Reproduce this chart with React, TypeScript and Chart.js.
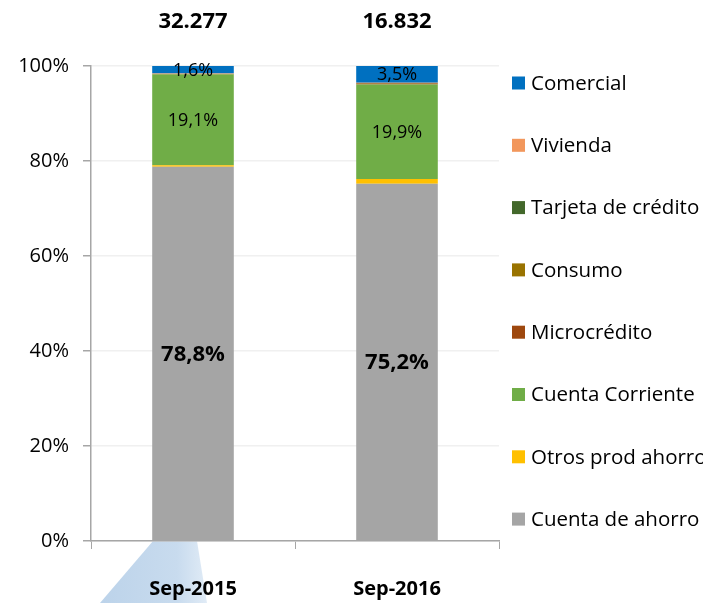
import React, { useEffect, useRef } from "react";
import { Chart, registerables } from "chart.js";

Chart.register(...registerables);

const categories = ["Sep-2015", "Sep-2016"];
const totals = ["32.277", "16.832"];

const seriesNames = [
  "Cuenta de ahorro",
  "Otros prod ahorro",
  "Cuenta Corriente",
  "Microcrédito",
  "Consumo",
  "Tarjeta de crédito",
  "Vivienda",
  "Comercial",
];
const seriesColors = [
  "#A5A5A5",
  "#FFC000",
  "#70AD47",
  "#9E480E",
  "#997300",
  "#43682B",
  "#F2975C",
  "#0070C0",
];
const cuentaAhorro = [78.8, 75.2];
const otrosProdAhorro = [0.3, 1.0];
const cuentaCorriente = [19.1, 19.9];
const microcredito = [0.0, 0.2];
const consumo = [0.1, 0.1];
const tarjetaCredito = [0.0, 0.0];
const vivienda = [0.1, 0.1];
const comercial = [1.6, 3.5];
const seriesValues = [
  cuentaAhorro,
  otrosProdAhorro,
  cuentaCorriente,
  microcredito,
  consumo,
  tarjetaCredito,
  vivienda,
  comercial,
];
const labeledSeries = [0, 2, 7];
const yTicks = [0, 20, 40, 60, 80, 100];

const FONT = "'Open Sans', 'Noto Sans', sans-serif";

const fmt = (v: number) => v.toFixed(1).replace(".", ",") + "%";

const watermarkPlugin = {
  id: "watermark",
  beforeDraw(chart: any) {
    const { ctx } = chart;
    ctx.save();
    const g = ctx.createLinearGradient(100, 0, 210, 0);
    g.addColorStop(0, "#bcd3ea");
    g.addColorStop(0.7, "#c8dbee");
    g.addColorStop(1, "#e3edf7");
    ctx.fillStyle = g;
    ctx.beginPath();
    ctx.moveTo(153, 541);
    ctx.lineTo(197, 541);
    ctx.lineTo(207, 603);
    ctx.lineTo(100, 603);
    ctx.closePath();
    ctx.fill();
    ctx.restore();
  },
};

const labelsPlugin = {
  id: "segLabels",
  afterDatasetsDraw(chart: any) {
    const { ctx } = chart;
    ctx.save();
    ctx.textAlign = "center";
    ctx.textBaseline = "middle";
    ctx.fillStyle = "#000";
    labeledSeries.forEach((di) => {
      const meta = chart.getDatasetMeta(di);
      meta.data.forEach((el: any, i: number) => {
        const v = seriesValues[di][i];
        const bold = di === 0;
        ctx.font = (bold ? "bold 22px " : "18px ") + FONT;
        const y = (el.y + el.base) / 2;
        ctx.fillText(fmt(v), el.x, y + 1);
      });
    });
    const meta0 = chart.getDatasetMeta(0);
    ctx.font = "bold 22px " + FONT;
    meta0.data.forEach((el: any, i: number) => {
      ctx.fillText(totals[i], el.x, 22);
    });
    const items = seriesNames.map((n, i) => ({ n, c: seriesColors[i] })).reverse();
    ctx.textAlign = "left";
    ctx.font = "20.5px " + FONT;
    items.forEach((it, i) => {
      const y = 83 + i * 62.3;
      ctx.fillStyle = it.c;
      ctx.fillRect(512, y - 6.5, 13, 13);
      ctx.fillStyle = "#000";
      ctx.fillText(it.n, 531, y + 1);
    });
    ctx.restore();
  },
};

export default function App() {
  const ref = useRef<HTMLCanvasElement>(null);
  useEffect(() => {
    if (!ref.current) return;
    const chart = new Chart(ref.current, {
      type: "bar",
      data: {
        labels: categories,
        datasets: seriesNames.map((name, i) => ({
          label: name,
          data: seriesValues[i],
          backgroundColor: seriesColors[i],
          borderWidth: 0,
          categoryPercentage: 1,
          barPercentage: 0.4,
        })),
      },
      options: {
        animation: false,
        responsive: true,
        maintainAspectRatio: false,
        layout: { padding: { top: 66, left: 18, right: 204, bottom: 0 } },
        plugins: {
          legend: { display: false },
          tooltip: { enabled: false },
        },
        scales: {
          x: {
            stacked: true,
            afterFit: (scale: any) => {
              scale.height = 62;
            },
            grid: {
              display: true,
              drawOnChartArea: false,
              drawTicks: true,
              tickLength: 8,
              tickColor: "#a6a6a6",
              offset: true,
            },
            border: { display: true, color: "#a6a6a6", width: 1.5 },
            ticks: {
              color: "#000",
              padding: 28,
              font: { family: FONT, size: 20, weight: "bold" },
            },
          },
          y: {
            stacked: true,
            min: 0,
            max: 100,
            afterFit: (scale: any) => {
              scale.width = 73;
            },
            afterBuildTicks: (axis: any) => {
              axis.ticks = yTicks.map((v) => ({ value: v }));
            },
            grid: {
              color: "#f0f0f0",
              tickColor: "#a6a6a6",
              tickLength: 8,
              lineWidth: 1.5,
            },
            border: { display: true, color: "#a6a6a6", width: 1.5 },
            ticks: {
              color: "#000",
              padding: 14,
              font: { family: FONT, size: 20 },
              callback: (v: any) => v + "%",
            },
          },
        },
      },
      plugins: [watermarkPlugin, labelsPlugin],
    });
    return () => chart.destroy();
  }, []);
  return (
    <div style={{ position: "absolute", left: 0, top: 0, width: 703, height: 603, background: "#fff" }}>
      <canvas ref={ref} />
    </div>
  );
}
